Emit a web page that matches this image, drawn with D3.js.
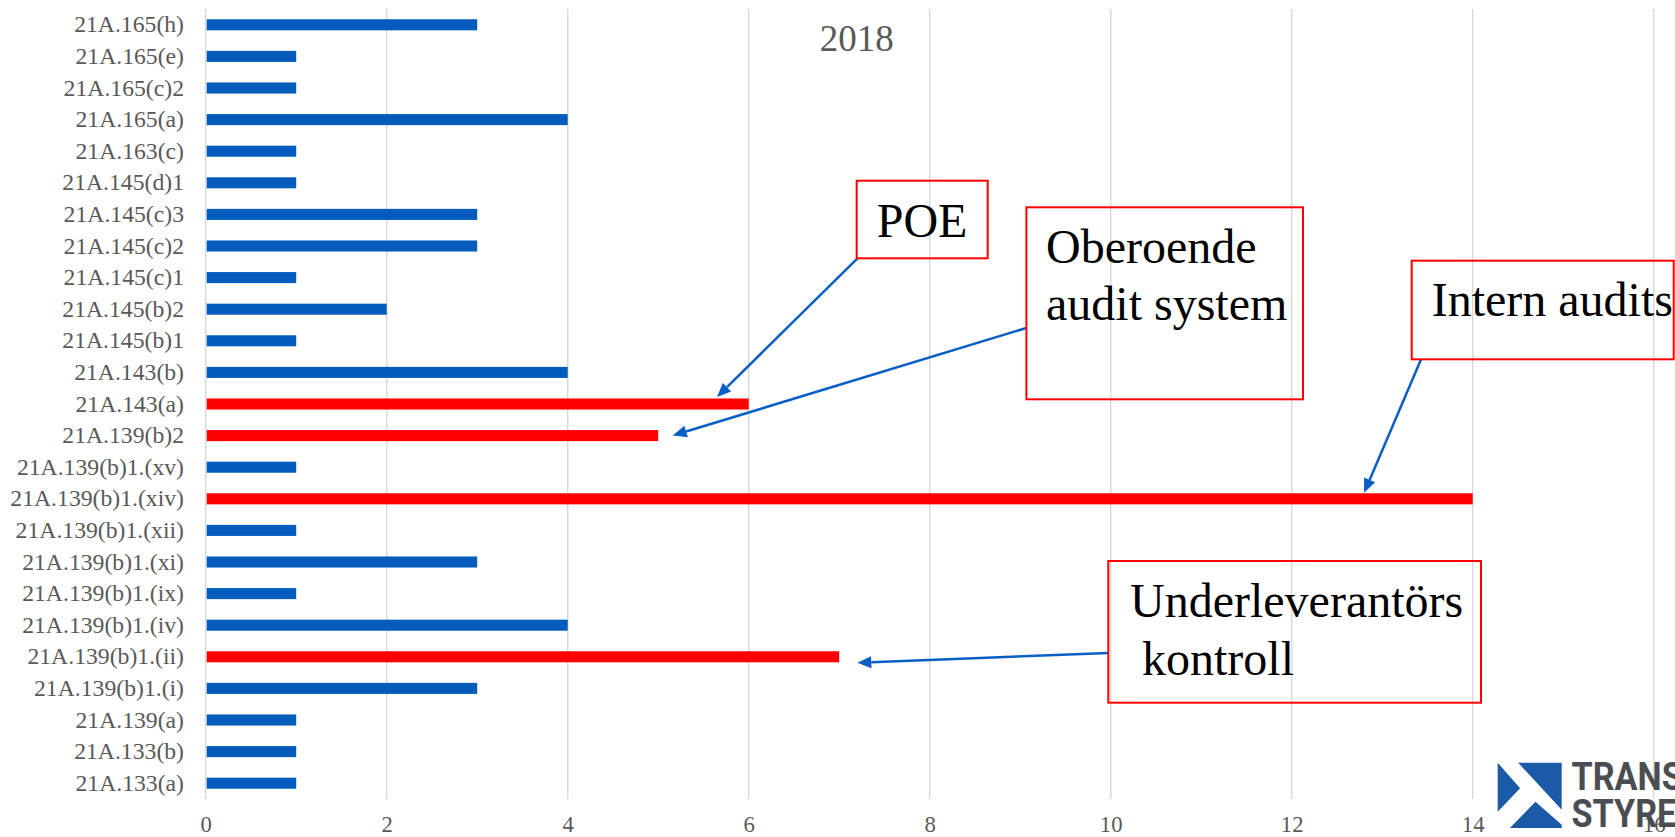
<!DOCTYPE html>
<html>
  <head>
    <title>2018 findings</title>
    <script src="https://d3js.org/d3.v7.min.js"></script>
    <style>
      body { margin: 0; background: #fff; }
      text { font-family: "Liberation Serif", "Times New Roman", serif; }
    </style>
  </head>
  <body>
    <div id="chart"></div>
    <script>
      // Data
      var categories = [
        "21A.165(h)", "21A.165(e)", "21A.165(c)2", "21A.165(a)", "21A.163(c)",
        "21A.145(d)1", "21A.145(c)3", "21A.145(c)2", "21A.145(c)1", "21A.145(b)2",
        "21A.145(b)1", "21A.143(b)", "21A.143(a)", "21A.139(b)2", "21A.139(b)1.(xv)",
        "21A.139(b)1.(xiv)", "21A.139(b)1.(xii)", "21A.139(b)1.(xi)", "21A.139(b)1.(ix)",
        "21A.139(b)1.(iv)", "21A.139(b)1.(ii)", "21A.139(b)1.(i)", "21A.139(a)",
        "21A.133(b)", "21A.133(a)"
      ];
      var counts = [3, 1, 1, 4, 1, 1, 3, 3, 1, 2, 1, 4, 6, 5, 1, 14, 1, 3, 1, 4, 7, 3, 1, 1, 1];
      var highlighted = ["21A.143(a)", "21A.139(b)2", "21A.139(b)1.(xiv)", "21A.139(b)1.(ii)"];
      var xTicks = [0, 2, 4, 6, 8, 10, 12, 14, 16];
      var title = "2018";

      // Callout texts and the bar each one points at
      var noteTexts = [["POE"], ["Oberoende", "audit system"], ["Intern audits"], ["Underleverantörs", " kontroll"]];
      var noteTargets = ["21A.143(a)", "21A.139(b)2", "21A.139(b)1.(xiv)", "21A.139(b)1.(ii)"];

      // Callout layout (box, text offsets, arrow start, arrow tip in value units)
      var noteLayout = [
        { box: [856.7, 180.7, 131, 77.6], tx: 20, ty: [56], from: [857.5, 258.3], tip: 5.65, dy: -7 },
        { box: [1026.4, 207.3, 276.6, 192], tx: 19.6, ty: [55.7, 112.7], from: [1026.4, 328], tip: 5.16, dy: 0 },
        { box: [1411.7, 260.7, 262, 98.6], tx: 20, ty: [55.3], from: [1421, 359.5], tip: 12.8, dy: -6 },
        { box: [1108.3, 561, 372.7, 141.7], tx: 21.7, ty: [55.7, 114], from: [1108.3, 653], tip: 7.2, dy: 6 }
      ];

      var width = 1675, height = 837;
      var serif = "'Liberation Serif', 'Times New Roman', serif";

      var svg = d3.select("#chart")
        .append("svg")
        .attr("width", width)
        .attr("height", height);

      var x = d3.scaleLinear()
        .domain([0, 16])
        .range([205.7, 1653.7]);

      var y = d3.scaleBand()
        .domain(categories)
        .range([9, 799])
        .paddingInner(0.65)
        .paddingOuter(0.325);

      // gridlines
      svg.append("g")
        .selectAll("line")
        .data(xTicks)
        .enter()
        .append("line")
        .attr("x1", function(d) { return x(d); })
        .attr("x2", function(d) { return x(d); })
        .attr("y1", 9)
        .attr("y2", 799)
        .attr("stroke", "#d9d9d9")
        .attr("stroke-width", 1.5);

      // title
      svg.append("text")
        .attr("x", 856.7)
        .attr("y", 50.7)
        .attr("text-anchor", "middle")
        .attr("fill", "#595959")
        .style("font-size", "37px")
        .text(title);

      // bars
      svg.append("g")
        .selectAll("rect")
        .data(categories)
        .enter()
        .append("rect")
        .attr("x", x(0) + 1)
        .attr("y", function(d) { return y(d); })
        .attr("width", function(d, i) { return x(counts[i]) - x(0) - 1; })
        .attr("height", y.bandwidth())
        .attr("fill", function(d) { return highlighted.indexOf(d) >= 0 ? "#ff0000" : "#035cbb"; });

      // y axis labels
      var yAxis = svg.append("g")
        .attr("transform", "translate(" + x(0) + ",0)")
        .attr("font-family", serif)
        .call(d3.axisLeft(y).tickSize(0).tickPadding(21.7));
      yAxis.attr("font-family", serif);
      yAxis.select(".domain").remove();
      yAxis.selectAll("text")
        .attr("fill", "#595959")
        .style("font-family", serif)
        .style("font-size", "23.7px");

      // x axis labels
      var xAxis = svg.append("g")
        .attr("transform", "translate(0,798)")
        .call(d3.axisBottom(x).tickValues(xTicks).tickSize(0).tickPadding(18).tickFormat(d3.format("d")));
      xAxis.attr("font-family", serif);
      xAxis.select(".domain").remove();
      xAxis.selectAll("text")
        .attr("fill", "#595959")
        .style("font-family", serif)
        .style("font-size", "22.7px");

      // callouts
      var notes = svg.append("g");
      noteLayout.forEach(function(n, i) {
        var tipX = x(n.tip);
        var tipY = y(noteTargets[i]) + y.bandwidth() / 2 + n.dy;
        var dx = tipX - n.from[0], dyy = tipY - n.from[1];
        var len = Math.sqrt(dx * dx + dyy * dyy);
        var ux = dx / len, uy = dyy / len;
        var headLen = 14, headW = 6;
        var bx = tipX - ux * headLen, by = tipY - uy * headLen;

        notes.append("line")
          .attr("x1", n.from[0])
          .attr("y1", n.from[1])
          .attr("x2", bx)
          .attr("y2", by)
          .attr("stroke", "#0a5fc4")
          .attr("stroke-width", 2.5);

        notes.append("polygon")
          .attr("points", [
            [tipX, tipY],
            [bx - uy * headW, by + ux * headW],
            [bx + uy * headW, by - ux * headW]
          ].join(" "))
          .attr("fill", "#0a5fc4");

        notes.append("rect")
          .attr("x", n.box[0])
          .attr("y", n.box[1])
          .attr("width", n.box[2])
          .attr("height", n.box[3])
          .attr("fill", "none")
          .attr("stroke", "#ff0000")
          .attr("stroke-width", 2);

        noteTexts[i].forEach(function(t, j) {
          notes.append("text")
            .attr("x", n.box[0] + n.tx)
            .attr("y", n.box[1] + n.ty[j])
            .attr("fill", "#000")
            .style("font-size", "48px")
            .style("white-space", "pre")
            .text(t);
        });
      });

      // logo in the corner
      var logo = svg.append("g")
        .attr("transform", "translate(1497.7,762.7)");
      var s = 64;
      var pieces = [
        [[0, 0], [0.35, 0.39], [0, 0.75]],
        [[0.32, 0], [1, 0], [1, 0.72]],
        [[0.19, 1], [0.59, 0.6], [1, 0.95], [1, 1]]
      ];
      logo.selectAll("polygon")
        .data(pieces)
        .enter()
        .append("polygon")
        .attr("points", function(p) {
          return p.map(function(q) { return [q[0] * s, q[1] * s * 1.02]; }).join(" ");
        })
        .attr("fill", "#1b5aa6");
      logo.selectAll("text.brand")
        .data(["TRANSPORT", "STYRELSEN"])
        .enter()
        .append("text")
        .attr("class", "brand")
        .attr("x", 82)
        .attr("y", function(d, i) { return 27.5 + i * 37; })
        .attr("fill", "#4a4d52")
        .attr("transform", "scale(0.9,1)")
        .style("font-family", "Roboto, 'DejaVu Sans', sans-serif")
        .style("font-weight", "bold")
        .style("font-size", "38px")
        .text(function(d) { return d; });
    </script>
  </body>
</html>
